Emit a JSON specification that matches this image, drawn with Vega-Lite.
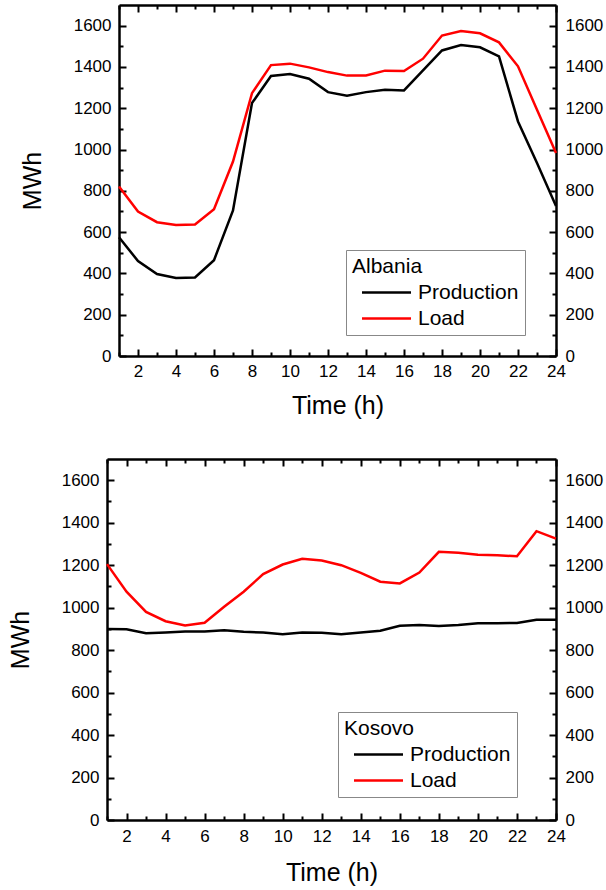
{
  "$schema": "https://vega.github.io/schema/vega-lite/v6.json",
  "padding": {"left": 8, "top": 4, "right": 2, "bottom": 3},
  "config": {
    "font": "Liberation Sans",
    "view": {"stroke": null},
    "axis": {"grid": false, "domainColor": "black", "domainWidth": 2.5, "tickColor": "black", "tickWidth": 2, "labelFontSize": 17, "labelColor": "black", "titleFontSize": 25, "titleFontWeight": "normal", "titleColor": "black", "labelFlush": false, "labelOverlap": false, "format": "d"},
    "legend": {"orient": "none", "titleFontSize": 21, "titleFontWeight": "normal", "titleColor": "black", "labelFontSize": 21, "labelColor": "black", "symbolType": "M-2.45,0H2.45", "symbolSize": 400, "symbolStrokeWidth": 2.5, "strokeColor": "#888888", "fillColor": "white", "padding": 6, "symbolOffset": 23, "labelOffset": 20, "rowPadding": 4, "titlePadding": 4}
  },
  "datasets": {
    "albania": [
      {"h":1,"series":"Production","v":575},{"h":2,"series":"Production","v":460},{"h":3,"series":"Production","v":397},{"h":4,"series":"Production","v":378},{"h":5,"series":"Production","v":380},{"h":6,"series":"Production","v":464},{"h":7,"series":"Production","v":705},{"h":8,"series":"Production","v":1225},{"h":9,"series":"Production","v":1356},{"h":10,"series":"Production","v":1366},{"h":11,"series":"Production","v":1343},{"h":12,"series":"Production","v":1278},{"h":13,"series":"Production","v":1261},{"h":14,"series":"Production","v":1278},{"h":15,"series":"Production","v":1290},{"h":16,"series":"Production","v":1286},{"h":17,"series":"Production","v":1383},{"h":18,"series":"Production","v":1480},{"h":19,"series":"Production","v":1506},{"h":20,"series":"Production","v":1495},{"h":21,"series":"Production","v":1451},{"h":22,"series":"Production","v":1136},{"h":23,"series":"Production","v":935},{"h":24,"series":"Production","v":727},
      {"h":1,"series":"Load","v":821},{"h":2,"series":"Load","v":700},{"h":3,"series":"Load","v":648},{"h":4,"series":"Load","v":635},{"h":5,"series":"Load","v":637},{"h":6,"series":"Load","v":711},{"h":7,"series":"Load","v":942},{"h":8,"series":"Load","v":1273},{"h":9,"series":"Load","v":1409},{"h":10,"series":"Load","v":1416},{"h":11,"series":"Load","v":1398},{"h":12,"series":"Load","v":1375},{"h":13,"series":"Load","v":1358},{"h":14,"series":"Load","v":1359},{"h":15,"series":"Load","v":1382},{"h":16,"series":"Load","v":1380},{"h":17,"series":"Load","v":1440},{"h":18,"series":"Load","v":1552},{"h":19,"series":"Load","v":1574},{"h":20,"series":"Load","v":1563},{"h":21,"series":"Load","v":1519},{"h":22,"series":"Load","v":1403},{"h":23,"series":"Load","v":1193},{"h":24,"series":"Load","v":983}
    ],
    "kosovo": [
      {"h":1,"series":"Production","v":900},{"h":2,"series":"Production","v":898},{"h":3,"series":"Production","v":880},{"h":4,"series":"Production","v":883},{"h":5,"series":"Production","v":888},{"h":6,"series":"Production","v":888},{"h":7,"series":"Production","v":894},{"h":8,"series":"Production","v":886},{"h":9,"series":"Production","v":883},{"h":10,"series":"Production","v":875},{"h":11,"series":"Production","v":883},{"h":12,"series":"Production","v":882},{"h":13,"series":"Production","v":875},{"h":14,"series":"Production","v":883},{"h":15,"series":"Production","v":891},{"h":16,"series":"Production","v":915},{"h":17,"series":"Production","v":918},{"h":18,"series":"Production","v":913},{"h":19,"series":"Production","v":918},{"h":20,"series":"Production","v":927},{"h":21,"series":"Production","v":927},{"h":22,"series":"Production","v":928},{"h":23,"series":"Production","v":943},{"h":24,"series":"Production","v":943},
      {"h":1,"series":"Load","v":1205},{"h":2,"series":"Load","v":1075},{"h":3,"series":"Load","v":980},{"h":4,"series":"Load","v":936},{"h":5,"series":"Load","v":916},{"h":6,"series":"Load","v":929},{"h":7,"series":"Load","v":1004},{"h":8,"series":"Load","v":1075},{"h":9,"series":"Load","v":1158},{"h":10,"series":"Load","v":1203},{"h":11,"series":"Load","v":1230},{"h":12,"series":"Load","v":1222},{"h":13,"series":"Load","v":1200},{"h":14,"series":"Load","v":1164},{"h":15,"series":"Load","v":1122},{"h":16,"series":"Load","v":1114},{"h":17,"series":"Load","v":1165},{"h":18,"series":"Load","v":1263},{"h":19,"series":"Load","v":1259},{"h":20,"series":"Load","v":1249},{"h":21,"series":"Load","v":1247},{"h":22,"series":"Load","v":1242},{"h":23,"series":"Load","v":1360},{"h":24,"series":"Load","v":1325}
    ]
  },
  "spacing": 40,
  "resolve": {"scale": {"color": "independent"}, "legend": {"color": "independent"}},
  "vconcat": [
    {
      "width": 449, "height": 351,
      "data": {"name": "albania"},
      "layer": [
        {
          "mark": {"type": "line", "strokeWidth": 2.5},
          "encoding": {
            "x": {"field": "h", "type": "quantitative", "scale": {"domain": [1, 24], "range": [12, 449], "nice": false, "zero": false},
              "axis": {"orient": "bottom", "values": [1,2,3,4,5,6,7,8,9,10,11,12,13,14,15,16,17,18,19,20,21,22,23,24], "labelExpr": "datum.value % 2 == 0 ? datum.label : ''", "tickSize": {"condition": {"test": "datum.value % 2 == 0", "value": -7}, "value": -4}, "labelPadding": 14, "title": "Time (h)", "titlePadding": 11}},
            "y": {"field": "v", "type": "quantitative", "scale": {"domain": [0, 1700], "nice": false},
              "axis": {"orient": "left", "offset": -12, "values": [0,100,200,300,400,500,600,700,800,900,1000,1100,1200,1300,1400,1500,1600], "labelExpr": "datum.value % 200 == 0 ? datum.label : ''", "tickSize": {"condition": {"test": "datum.value % 200 == 0", "value": -7}, "value": -4}, "labelPadding": 15, "title": "MWh", "titlePadding": 28}},
            "color": {"field": "series", "type": "nominal", "scale": {"domain": ["Production", "Load"], "range": ["black", "red"]},
              "legend": {"title": "Albania", "legendX": 239, "legendY": 245}}
          }
        },
        {
          "mark": {"type": "line", "opacity": 0},
          "encoding": {
            "x": {"field": "h", "type": "quantitative", "scale": {"domain": [1, 24], "range": [12, 449], "nice": false, "zero": false},
              "axis": {"orient": "top", "values": [1,2,3,4,5,6,7,8,9,10,11,12,13,14,15,16,17,18,19,20,21,22,23,24], "labels": false, "title": null, "tickSize": {"condition": {"test": "datum.value % 2 == 0", "value": -7}, "value": -4}}},
            "y": {"field": "v", "type": "quantitative", "scale": {"domain": [0, 1700], "nice": false},
              "axis": {"orient": "right", "values": [0,100,200,300,400,500,600,700,800,900,1000,1100,1200,1300,1400,1500,1600], "labelExpr": "datum.value % 200 == 0 ? datum.label : ''", "tickSize": {"condition": {"test": "datum.value % 200 == 0", "value": -7}, "value": -4}, "labelPadding": 16, "title": null}}
          }
        }
      ],
      "resolve": {"axis": {"x": "independent", "y": "independent"}}
    },
    {
      "width": 449, "height": 361,
      "data": {"name": "kosovo"},
      "layer": [
        {
          "mark": {"type": "line", "strokeWidth": 2.5},
          "encoding": {
            "x": {"field": "h", "type": "quantitative", "scale": {"domain": [1, 24], "nice": false, "zero": false},
              "axis": {"orient": "bottom", "values": [1,2,3,4,5,6,7,8,9,10,11,12,13,14,15,16,17,18,19,20,21,22,23,24], "labelExpr": "datum.value % 2 == 0 ? datum.label : ''", "tickSize": {"condition": {"test": "datum.value % 2 == 0", "value": -7}, "value": -4}, "labelPadding": 15, "title": "Time (h)", "titlePadding": 13}},
            "y": {"field": "v", "type": "quantitative", "scale": {"domain": [0, 1700], "nice": false},
              "axis": {"orient": "left", "values": [0,100,200,300,400,500,600,700,800,900,1000,1100,1200,1300,1400,1500,1600], "labelExpr": "datum.value % 200 == 0 ? datum.label : ''", "tickSize": {"condition": {"test": "datum.value % 200 == 0", "value": -7}, "value": -4}, "labelPadding": 15, "title": "MWh", "titlePadding": 28}},
            "color": {"field": "series", "type": "nominal", "scale": {"domain": ["Production", "Load"], "range": ["black", "red"]},
              "legend": {"title": "Kosovo", "legendX": 231, "legendY": 253}}
          }
        },
        {
          "mark": {"type": "line", "opacity": 0},
          "encoding": {
            "x": {"field": "h", "type": "quantitative", "scale": {"domain": [1, 24], "nice": false, "zero": false},
              "axis": {"orient": "top", "values": [1,2,3,4,5,6,7,8,9,10,11,12,13,14,15,16,17,18,19,20,21,22,23,24], "labels": false, "title": null, "tickSize": {"condition": {"test": "datum.value % 2 == 0", "value": -7}, "value": -4}}},
            "y": {"field": "v", "type": "quantitative", "scale": {"domain": [0, 1700], "nice": false},
              "axis": {"orient": "right", "values": [0,100,200,300,400,500,600,700,800,900,1000,1100,1200,1300,1400,1500,1600], "labelExpr": "datum.value % 200 == 0 ? datum.label : ''", "tickSize": {"condition": {"test": "datum.value % 200 == 0", "value": -7}, "value": -4}, "labelPadding": 16, "title": null}}
          }
        }
      ],
      "resolve": {"axis": {"x": "independent", "y": "independent"}}
    }
  ]
}
